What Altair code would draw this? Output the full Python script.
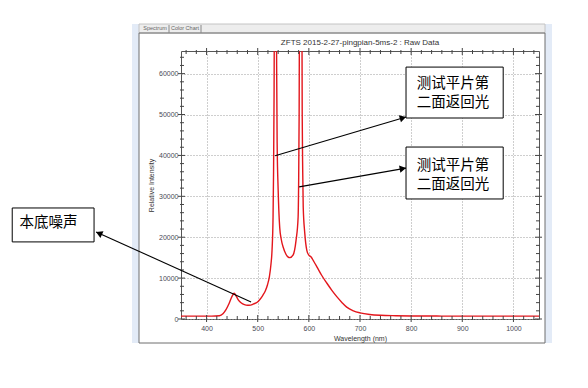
import math
import altair as alt
import pandas as pd

# ---------------- data ----------------
TITLE = "ZFTS 2015-2-27-pingpian-5ms-2 : Raw Data"
X_TITLE = "Wavelength (nm)"
Y_TITLE = "Relative Intensity"
TAB_1 = "Spectrum"
TAB_2 = "Color Chart"

wavelength = [350, 380, 410, 425, 432, 438, 444, 450, 454, 458, 462, 468, 474, 480,
              486, 492, 499, 505, 510, 515, 519, 523, 526, 528, 530, 531, 532, 533,
              536, 537, 538, 540, 543, 546, 550, 555, 559, 563, 569, 575, 579, 580,
              581, 582, 586, 587, 588, 589, 592, 596, 600, 604, 610, 616, 625, 635,
              645, 655, 665, 674, 687, 700, 719, 740, 770, 800, 850, 900, 950, 1000, 1050]
intensity = [700, 700, 700, 800, 1300, 2300, 3800, 5600, 6300, 5600, 4700, 3900, 3500, 3350,
             3400, 3700, 4100, 4900, 5800, 6900, 8300, 10500, 13500, 16800, 25000, 36000, 55000, 90000,
             90000, 62000, 43000, 31500, 22400, 19500, 17500, 15900, 15200, 15000, 15600, 19300, 24900, 33000,
             50000, 90000, 90000, 50000, 36000, 27300, 21000, 16800, 15600, 15200, 14000, 12700, 10700, 8800,
             7000, 5400, 4000, 2900, 2000, 1500, 1100, 900, 800, 750, 720, 700, 700, 700, 700]

x_major = [400, 500, 600, 700, 800, 900, 1000]
x_minor = [360, 380, 420, 440, 460, 480, 520, 540, 560, 580, 620, 640, 660, 680,
           720, 740, 760, 780, 820, 840, 860, 880, 920, 940, 960, 980, 1020, 1040]
y_major = [0, 10000, 20000, 30000, 40000, 50000, 60000]
y_minor = [2000, 4000, 6000, 8000, 12000, 14000, 16000, 18000, 22000, 24000, 26000, 28000,
           32000, 34000, 36000, 38000, 42000, 44000, 46000, 48000, 52000, 54000, 56000, 58000,
           62000, 64000]

note_text = ["测试平片第\n二面返回光", "测试平片第\n二面返回光", "本底噪声"]
note_x1 = [790, 790, 20]
note_x2 = [980, 980, 180]
note_y1 = [61600, 42050, 27150]
note_y2 = [49150, 29350, 18850]
note_tx = [882, 882, 91]
note_ty = [57550, 37500, 23500]

arrow_x_from = [534, 581, 487]
arrow_y_from = [39900, 32300, 4150]
arrow_x_to = [790, 790, 184]
arrow_y_to = [49400, 36900, 21300]

# ---------------- layout ----------------
W, H = 358, 268
XDOM = [350, 1050]
YDOM = [0, 65535]
FONT = "Liberation Sans"
CJK = "Noto Sans CJK SC"


def xs():
    return alt.Scale(domain=XDOM, nice=False, zero=False)


def ys():
    return alt.Scale(domain=YDOM, nice=False, zero=False)


X_AXIS = alt.Axis(
    values=x_major, title=X_TITLE, ticks=False, domain=False, grid=True,
    gridDash=[1, 2], gridColor="#9c9c9c", labelFont=FONT, labelFontSize=7,
    labelColor="#4a4a55", labelPadding=5, format="d",
    titleFont=FONT, titleFontSize=7, titleFontWeight="normal", titleColor="#333",
    titleY=19, titleBaseline="middle")
Y_AXIS = alt.Axis(
    values=y_major, title=Y_TITLE, ticks=False, domain=False, grid=True,
    gridDash=[1, 2], gridColor="#9c9c9c", labelFont=FONT, labelFontSize=7,
    labelColor="#4a4a55", labelPadding=3, format="d",
    titleFont=FONT, titleFontSize=7, titleFontWeight="normal", titleColor="#333",
    titleX=-30, titleY=H / 2, titleAngle=270, titleBaseline="middle")


def X(field):
    return alt.X(field, scale=xs(), axis=X_AXIS)


def Y(field):
    return alt.Y(field, scale=ys(), axis=Y_AXIS)


def to_px(x, y):
    return (x - XDOM[0]) / (XDOM[1] - XDOM[0]) * W, H - (y - YDOM[0]) / (YDOM[1] - YDOM[0]) * H


def to_data(px, py):
    return XDOM[0] + px / W * (XDOM[1] - XDOM[0]), YDOM[0] + (H - py) / H * (YDOM[1] - YDOM[0])


# arrowheads: angle and a small back-off so the tip sits on the end point
head_x, head_y, head_a = [], [], []
for x0, y0, x1, y1 in zip(arrow_x_from, arrow_y_from, arrow_x_to, arrow_y_to):
    p0 = to_px(x0, y0)
    p1 = to_px(x1, y1)
    dx, dy = p1[0] - p0[0], p1[1] - p0[1]
    n = math.hypot(dx, dy)
    ux, uy = dx / n, dy / n
    hx, hy = to_data(p1[0] - 3.2 * ux, p1[1] - 3.2 * uy)
    head_x.append(hx)
    head_y.append(hy)
    head_a.append(math.degrees(math.atan2(dy, dx)) % 360)

spec = pd.DataFrame({"wl": wavelength, "iv": intensity})
notes = pd.DataFrame({"x1": note_x1, "x2": note_x2, "y1": note_y1, "y2": note_y2,
                      "tx": note_tx, "ty": note_ty, "t": note_text})
arrows = pd.DataFrame({"x": arrow_x_from, "y": arrow_y_from, "x2": arrow_x_to, "y2": arrow_y_to,
                       "hx": head_x, "hy": head_y, "ha": head_a})
one = pd.DataFrame({"k": [0]})

# ---------------- application frame ----------------
frame_left = alt.Chart(one).mark_rect(fill="#e3ebf7").encode(
    x=alt.value(-49), x2=alt.value(-42), y=alt.value(-27), y2=alt.value(292))
frame_right = alt.Chart(one).mark_rect(fill="#e3ebf7").encode(
    x=alt.value(364), x2=alt.value(371), y=alt.value(-27), y2=alt.value(292))
tab_bar = alt.Chart(one).mark_rect(fill="#ededed", stroke="#c4c4c4", strokeWidth=1).encode(
    x=alt.value(-42), x2=alt.value(364), y=alt.value(-27), y2=alt.value(-18))
panel = alt.Chart(one).mark_rect(fill=None, stroke="#6e6e6e", strokeWidth=1).encode(
    x=alt.value(-42), x2=alt.value(364), y=alt.value(-18), y2=alt.value(292))
tab_sep1 = alt.Chart(one).mark_rule(color="#888", strokeWidth=1).encode(
    x=alt.value(-12), y=alt.value(-26), y2=alt.value(-18))
tab_sep2 = alt.Chart(one).mark_rule(color="#888", strokeWidth=1).encode(
    x=alt.value(20), y=alt.value(-26), y2=alt.value(-18))
tab1 = alt.Chart(one).mark_text(text=TAB_1, font=FONT, fontSize=5.5, color="#666",
                                align="center", baseline="middle").encode(
    x=alt.value(-26), y=alt.value(-23))
tab2 = alt.Chart(one).mark_text(text=TAB_2, font=FONT, fontSize=5.5, color="#666",
                                align="center", baseline="middle").encode(
    x=alt.value(4), y=alt.value(-23))
title = alt.Chart(one).mark_text(text=TITLE, font=FONT, fontSize=8, color="#333",
                                 align="center", baseline="middle").encode(
    x=alt.value(W / 2), y=alt.value(-8))

# ---------------- spectrum ----------------
line = alt.Chart(spec).mark_line(clip=True, interpolate="monotone", color="#e3161c",
                                 strokeWidth=1.4).encode(x=X("wl:Q"), y=Y("iv:Q"))

# ---------------- tick marks (all four sides) ----------------
xmaj = pd.DataFrame({"v": x_major})
xmin = pd.DataFrame({"v": x_minor})
ymaj = pd.DataFrame({"v": y_major})
ymin = pd.DataFrame({"v": y_minor})
TC = "#444444"


def xtick(df, a, b):
    return alt.Chart(df).mark_rule(color=TC, strokeWidth=1).encode(
        x=X("v:Q"), y=alt.value(a), y2=alt.value(b))


def ytick(df, a, b):
    return alt.Chart(df).mark_rule(color=TC, strokeWidth=1).encode(
        y=Y("v:Q"), x=alt.value(a), x2=alt.value(b))


ticks = [
    xtick(xmaj, H - 4, H + 3), xtick(xmin, H - 3, H + 1),
    xtick(xmaj, -3, 4), xtick(xmin, -1, 3),
    ytick(ymaj, -3, 4), ytick(ymin, -1, 3),
    ytick(ymaj, W - 4, W + 3), ytick(ymin, W - 3, W + 1),
]

# ---------------- annotations ----------------
arrow_lines = alt.Chart(arrows).mark_rule(color="black", strokeWidth=1.1).encode(
    x=X("x:Q"), y=Y("y:Q"), x2="x2:Q", y2="y2:Q")
arrow_heads = alt.Chart(arrows).mark_point(shape="triangle-right", filled=True, size=55,
                                           color="black", opacity=1).encode(
    x=X("hx:Q"), y=Y("hy:Q"), angle=alt.Angle("ha:Q", scale=None))
boxes = alt.Chart(notes).mark_rect(fill="white", stroke="black", strokeWidth=1).encode(
    x=X("x1:Q"), x2="x2:Q", y=Y("y1:Q"), y2="y2:Q")
labels = alt.Chart(notes).mark_text(font=CJK, fontSize=14.5, lineHeight=19.5, lineBreak="\n",
                                    align="center", baseline="middle", color="black").encode(
    x=X("tx:Q"), y=Y("ty:Q"), text="t:N")

chart = alt.layer(
    frame_left, frame_right, tab_bar, panel, tab_sep1, tab_sep2, tab1, tab2, title,
    line, *ticks, arrow_lines, boxes, labels, arrow_heads,
).properties(
    width=W, height=H,
    padding={"left": 173, "top": 43, "right": 20, "bottom": 30},
    autosize=alt.AutoSizeParams(type="none"),
    background="white",
).configure_view(stroke="#555555", strokeWidth=1)

chart.save("out.html", embed_options={"renderer": "svg", "actions": False})
